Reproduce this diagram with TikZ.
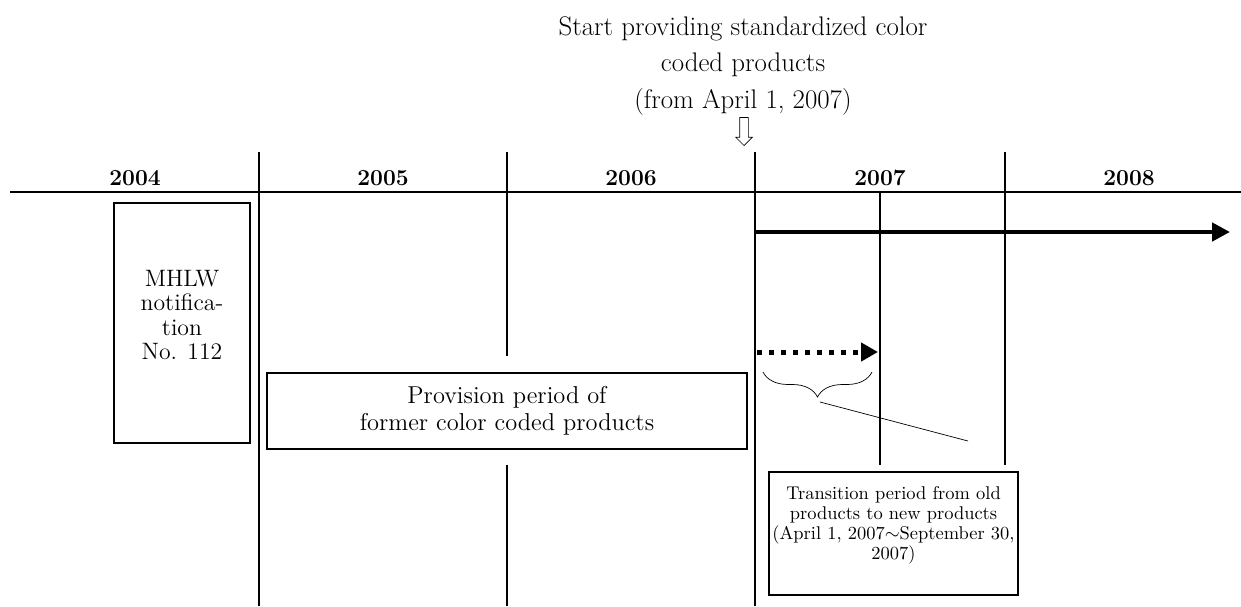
\documentclass[tikz,border=0pt]{standalone}
\usepackage{amsmath, amssymb}
\usepackage{tikz}
\usetikzlibrary{arrows.meta, positioning, shapes.arrows, decorations.pathreplacing, calc}

\begin{document}
\begin{tikzpicture}[x=0.02cm, y=-0.02cm,
    yearlabel/.style={font=\fontsize{13}{14}\selectfont\bfseries, anchor=base},
    periodbox/.style={draw, fill=white, line width=0.9pt, align=center, inner sep=0pt},
    gridline/.style={line width=0.9pt}]
    \useasboundingbox (0,0) rectangle (1241,606);

    % Headline and its open arrow
    \node[align=center, font=\fontsize{15.3}{21}\selectfont, anchor=north] (start) at (743,10) {Start providing standardized color\\coded products\\(from April 1, 2007)};
    \node[single arrow, draw, line width=0.4pt, shape border rotate=270, minimum height=0.56cm, single arrow head extend=0.08cm, inner sep=0.08cm, anchor=tip] (startarrow) at (744,146) {};

    % Time axis with years
    \draw[gridline] (10,192) -- (1241,192);
    \foreach \x/\yr in {135/2004, 383/2005, 631/2006, 880/2007, 1129/2008}
        \node[yearlabel] (y\yr) at (\x,185) {\yr};

    % Year boundaries
    \draw[gridline] (259,152) -- (259,606);
    \draw[gridline] (507,152) -- (507,356);
    \draw[gridline] (507,465) -- (507,606);
    \draw[gridline] (755,152) -- (755,606);
    \draw[gridline] (1005,152) -- (1005,465);
    \draw[gridline] (880,192) -- (880,465);

    % Boxes
    \node[periodbox, minimum width=2.72cm, minimum height=4.8cm, text depth=0.32cm, font=\fontsize{13.5}{13.8}\selectfont] (mhlw) at (182,323) {MHLW\\notifica-\\tion\\No. 112};
    \node[periodbox, minimum width=9.6cm, minimum height=1.52cm, font=\fontsize{13.9}{15.5}\selectfont] (provision) at (507,411) {Provision period of\\former color coded products};
    \node[periodbox, minimum width=4.98cm, minimum height=2.46cm, text depth=0.43cm, font=\fontsize{10.5}{11.4}\selectfont] (transition) at (893.5,533.5) {Transition period from old\\products to new products\\(April 1, 2007$\sim$September 30,\\2007)};

    % New products from April 2007 on
    \coordinate (newstart) at (755,232);
    \coordinate (newend) at (1230,232);
    \draw[line width=2.8pt, -{Triangle[length=0.36cm, width=0.36cm]}] (newstart) -- (newend);

    % Transition period
    \coordinate (transstart) at (757,352);
    \coordinate (transend) at (878,352);
    \draw[line width=0.1cm, dash pattern=on 0.1cm off 0.14cm, -{Triangle[length=0.34cm, width=0.36cm]}] (transstart) -- (transend);
    \coordinate (braceleft) at (763,372);
    \coordinate (braceright) at (872,372);
    \draw[decorate, decoration={brace, amplitude=0.5cm, mirror}] (braceleft) -- (braceright);
    \coordinate (bracetip) at (820,402);
    \coordinate (noteend) at (968,441);
    \draw (bracetip) -- (noteend);
\end{tikzpicture}
\end{document}
